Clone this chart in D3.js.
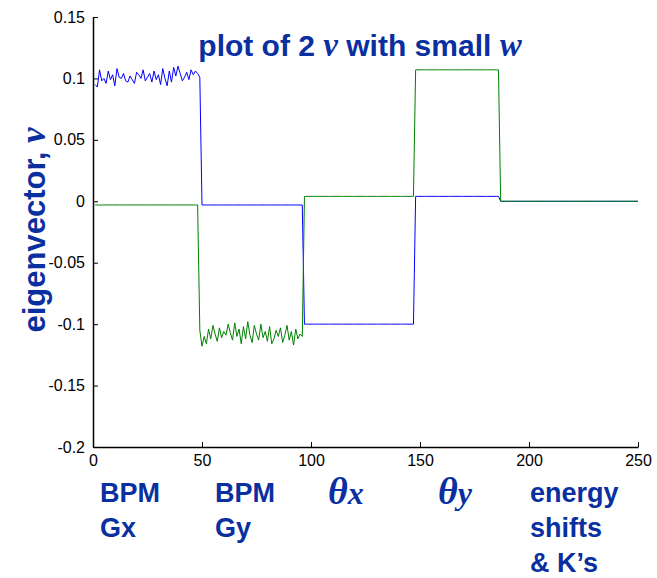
<!DOCTYPE html>
<html><head><meta charset="utf-8">
<script src="https://cdn.jsdelivr.net/npm/d3@7"></script>
<style>body{margin:0;background:#fff}</style>
</head><body><svg id="chart" width="657" height="578"></svg>
<script>
// noisy blue segment, indices 1..49
const blueNoise = [0.095,0.093,0.107,0.098,0.100,0.096,0.106,0.099,0.103,0.094,0.108,0.101,0.100,0.104,0.098,0.097,0.102,0.099,0.096,0.105,0.103,0.100,0.107,0.098,0.101,0.104,0.097,0.106,0.099,0.103,0.095,0.108,0.100,0.094,0.106,0.097,0.109,0.102,0.110,0.104,0.098,0.101,0.105,0.099,0.107,0.103,0.106,0.104,0.101];
// noisy green segment, indices 49..96
const greenNoise = [-0.105,-0.118,-0.110,-0.116,-0.104,-0.112,-0.101,-0.108,-0.114,-0.103,-0.111,-0.106,-0.109,-0.100,-0.107,-0.113,-0.099,-0.110,-0.104,-0.116,-0.102,-0.112,-0.098,-0.109,-0.115,-0.101,-0.108,-0.113,-0.100,-0.111,-0.106,-0.114,-0.102,-0.116,-0.112,-0.105,-0.110,-0.103,-0.115,-0.109,-0.101,-0.113,-0.106,-0.117,-0.104,-0.112,-0.108,-0.110];
// flat segments [from, to, value]
const blueSteps = [[50,96,-0.003],[97,147,-0.100],[148,186,0.004],[187,250,0.000]];
const greenSteps = [[1,48,-0.003],[97,147,0.004],[148,186,0.107],[187,250,0.000]];
const yTicks = [0.15,0.1,0.05,0,-0.05,-0.1,-0.15,-0.2];
const xTicks = [0,50,100,150,200,250];

function build(noise, start, steps){
  const pts = [];
  noise.forEach((v,i)=>pts.push([start+i, v]));
  steps.forEach(([a,b,v])=>{ for(let i=a;i<=b;i++) pts.push([i,v]); });
  return pts.sort((p,q)=>p[0]-q[0]);
}
const blue = build(blueNoise, 1, blueSteps);
const green = build(greenNoise, 49, greenSteps);

const svg = d3.select('#chart');
const x = d3.scaleLinear().domain([0,250]).range([93,638]);
const y = d3.scaleLinear().domain([-0.2,0.15]).range([447,17]);

svg.append('g').attr('transform','translate(93,0)')
  .call(d3.axisLeft(y).tickValues(yTicks).tickSizeInner(-5).tickSizeOuter(0).tickPadding(8).tickFormat(d=>String(d)))
  .call(g=>g.selectAll('text').attr('font-family','Arial, Liberation Sans').attr('font-size',16).attr('fill','#000'))
  .call(g=>g.select('.domain').attr('stroke-width',1.5));
svg.append('g').attr('transform','translate(0,447)')
  .call(d3.axisBottom(x).tickValues(xTicks).tickSizeInner(-5).tickSizeOuter(0).tickPadding(8))
  .call(g=>g.selectAll('text').attr('font-family','Arial, Liberation Sans').attr('font-size',16).attr('fill','#000'))
  .call(g=>g.select('.domain').attr('stroke-width',1.5));

const line = d3.line().x(d=>x(d[0])).y(d=>y(d[1]));
svg.append('path').datum(blue).attr('d',line).attr('fill','none').attr('stroke','#0000ff').attr('stroke-width',1);
svg.append('path').datum(green).attr('d',line).attr('fill','none').attr('stroke','#007f00').attr('stroke-width',1);

const blueText = '#0a2fa0';
const sans = 'Arial, Liberation Sans, sans-serif';
const serif = 'Liberation Serif, Times New Roman, serif';
const t = svg.append('text').attr('x',360).attr('y',56).attr('text-anchor','middle')
  .attr('font-family',sans).attr('font-weight','bold').attr('font-size',30).attr('fill',blueText);
t.append('tspan').text('plot of 2 ');
t.append('tspan').attr('font-family',serif).attr('font-style','italic').attr('font-size',33).text('v');
t.append('tspan').text(' with small ');
t.append('tspan').attr('font-family',serif).attr('font-style','italic').attr('font-size',33).text('w');

const yl = svg.append('text').attr('transform','translate(45,230) rotate(-90)').attr('text-anchor','middle')
  .attr('font-family',sans).attr('font-weight','bold').attr('font-size',31).attr('fill',blueText);
yl.append('tspan').text('eigenvector, ');
yl.append('tspan').attr('font-family',serif).attr('font-style','italic').attr('font-size',35).text('v');

const labels = [
  {x:100, lines:['BPM','Gx']},
  {x:215, lines:['BPM','Gy']},
  {x:530, lines:['energy','shifts','& K\u2019s']}
];
labels.forEach(l=>l.lines.forEach((s,i)=>svg.append('text').attr('x',l.x).attr('y',502+i*35)
  .attr('font-family',sans).attr('font-weight','bold').attr('font-size',27).attr('fill',blueText).text(s)));
[{x:328,s:'x'},{x:438,s:'y'}].forEach(d=>{
  const tt = svg.append('text').attr('x',d.x).attr('y',504).attr('font-family',serif)
    .attr('font-style','italic').attr('font-weight','bold').attr('fill',blueText);
  tt.append('tspan').attr('font-size',38).text('\u03b8');
  tt.append('tspan').attr('font-size',32).text(d.s);
});
</script></body></html>
